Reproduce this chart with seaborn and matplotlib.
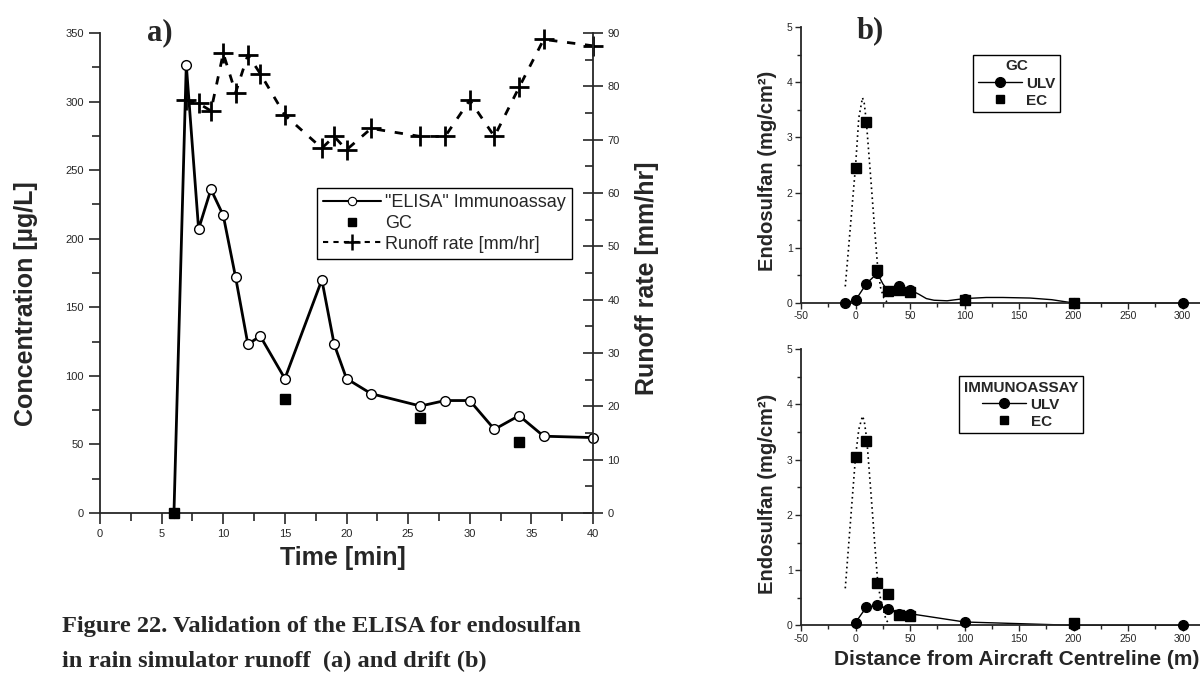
import numpy as np
import pandas as pd
import matplotlib
matplotlib.use("Agg")
import matplotlib.pyplot as plt
from matplotlib.lines import Line2D
from matplotlib.ticker import MultipleLocator
import seaborn as sns

# ---------------- Panel a data ----------------
time_elisa = [6, 7, 8, 9, 10, 11, 12, 13, 15, 18, 19, 20, 22, 26, 28, 30, 32, 34, 36, 40]
conc_elisa = [0, 327, 207, 236, 217, 172, 123, 129, 98, 170, 123, 98, 87, 78, 82, 82, 61, 71, 56, 55]
time_gc = [6, 15, 26, 34]
conc_gc = [0, 83, 69, 52]
time_runoff = [7, 8, 9, 10, 11, 12, 13, 15, 18, 19, 20, 22, 26, 28, 30, 32, 34, 36, 40]
runoff_rate = [77.4, 76.8, 75.4, 86.2, 78.8, 85.9, 82.4, 74.6, 68.4, 70.6, 68.1, 72.1,
               70.6, 70.6, 77.4, 70.6, 79.8, 88.8, 87.6]

# ---------------- Panel b data (GC, top) ----------------
ulv_gc_x = [-10, 0, 10, 20, 30, 40, 50, 100, 200, 300]
ulv_gc_y = [0.0, 0.05, 0.35, 0.54, 0.21, 0.31, 0.24, 0.08, 0.0, 0.0]
ulv_gc_curve_x = [-10, 0, 10, 20, 25, 30, 35, 40, 45, 50, 58, 65, 72, 84, 92, 100,
                  120, 135, 160, 180, 190, 200, 250, 300]
ulv_gc_curve_y = [0.0, 0.05, 0.35, 0.54, 0.35, 0.21, 0.27, 0.31, 0.28, 0.24, 0.16, 0.08,
                  0.05, 0.04, 0.06, 0.08, 0.10, 0.10, 0.09, 0.06, 0.03, 0.0, 0.0, 0.0]
ec_gc_x = [0, 10, 20, 30, 40, 50, 100, 200]
ec_gc_y = [2.45, 3.27, 0.59, 0.22, 0.23, 0.20, 0.05, 0.0]
ec_gc_fit_x = [-9.4, -6, -3, 0, 3, 6.4, 8, 10, 13, 16, 18, 20.5, 23, 26, 28.8]
ec_gc_fit_y = [0.30, 1.08, 1.78, 2.47, 3.35, 3.72, 3.62, 3.27, 2.51, 1.74, 1.23, 0.60, 0.28, 0.09, 0.02]

# ---------------- Panel b data (Immunoassay, bottom) ----------------
ulv_ia_x = [0, 10, 20, 30, 40, 50, 100, 200, 300]
ulv_ia_y = [0.05, 0.33, 0.36, 0.30, 0.20, 0.21, 0.06, 0.0, 0.0]
ec_ia_x = [0, 10, 20, 30, 40, 50, 200]
ec_ia_y = [3.05, 3.34, 0.76, 0.57, 0.18, 0.17, 0.05]
ec_ia_fit_x = [-9.4, -6, -3, 0, 3, 6.4, 8, 10.4, 13, 16, 18, 20.5, 23, 26, 28, 31]
ec_ia_fit_y = [0.67, 1.53, 2.29, 3.05, 3.55, 3.79, 3.70, 3.36, 2.69, 1.92, 1.38, 0.76, 0.48, 0.24, 0.10, 0.02]

# ---------------- Text ----------------
caption_1 = "Figure 22. Validation of the ELISA for endosulfan"
caption_2 = "in rain simulator runoff  (a) and drift (b)"

sns.set_style("ticks")
plt.rcParams["font.family"] = ["Liberation Sans", "DejaVu Sans"]
plt.rcParams["axes.linewidth"] = 1.3
plt.rcParams["axes.unicode_minus"] = False

W, H = 1200, 680
fig = plt.figure(figsize=(12, 6.8), dpi=100)

# ======================= Panel a =======================
axa = fig.add_axes([100 / W, 1 - 513 / H, 493 / W, 480 / H])
sns.lineplot(x=time_elisa, y=conc_elisa, ax=axa, color="black", lw=2.0, marker="o",
             ms=7, mfc="white", mec="black", mew=1.0, clip_on=False, zorder=3)
axa.plot(time_gc, conc_gc, ls="none", marker="s", ms=6.5, color="black", clip_on=False, zorder=4)
axa.set_xlim(0, 40)
axa.set_ylim(0, 350)
axa.xaxis.set_major_locator(MultipleLocator(5))
axa.xaxis.set_minor_locator(MultipleLocator(2.5))
axa.yaxis.set_major_locator(MultipleLocator(50))
axa.yaxis.set_minor_locator(MultipleLocator(25))
axa.tick_params(which="major", direction="out", length=8, width=1.2, labelsize=8)
axa.tick_params(which="minor", direction="out", length=6, width=1.2)
axa.spines["top"].set_visible(False)
axa.spines["right"].set_visible(False)
axa.set_xlabel("Time [min]", fontsize=18, fontweight="bold")
axa.set_ylabel("Concentration [µg/L]", fontsize=18, fontweight="bold")
axa.xaxis.set_label_coords(0.493, -0.068)
axa.yaxis.set_label_coords(-0.125, 0.436)

ax2 = axa.twinx()
sns.lineplot(x=time_runoff, y=runoff_rate, ax=ax2, color="black", lw=2.0,
             ls=(0, (3, 3.5)), marker="+", ms=14, mew=2.0, mec="black", mfc="black",
             clip_on=False)
ax2.set_ylim(0, 90)
ax2.yaxis.set_major_locator(MultipleLocator(10))
ax2.yaxis.set_minor_locator(MultipleLocator(5))
ax2.tick_params(which="major", direction="inout", length=14, width=1.2, labelsize=8)
ax2.tick_params(which="minor", direction="in", length=6, width=1.2)
for s in ["top", "left", "bottom"]:
    ax2.spines[s].set_visible(False)
ax2.set_ylabel("Runoff rate [mm/hr]", fontsize=18, fontweight="bold")
ax2.yaxis.set_label_coords(1.085, 0.489)

handles_a = [
    Line2D([], [], color="black", lw=1.5, marker="o", ms=6, mfc="white", mec="black", mew=0.8),
    Line2D([], [], ls="none", marker="s", ms=6, color="black"),
    Line2D([], [], color="black", lw=1.5, ls=(0, (2.5, 2.5)), marker="+", ms=12, mew=1.8),
]
leg = ax2.legend(handles_a, ['"ELISA" Immunoassay', "GC", "Runoff rate [mm/hr]"],
                 loc="upper left", bbox_to_anchor=(0.44, 0.677), borderaxespad=0,
                 fontsize=13, handlelength=3.2, handletextpad=0.2, labelspacing=0.2,
                 borderpad=0.35, fancybox=False, framealpha=1, edgecolor="black")
leg.get_frame().set_linewidth(1.0)

fig.text(147 / W, 1 - 40 / H, "a)", family=["Liberation Serif"], fontweight="bold",
         fontsize=22, va="baseline")
fig.text(62 / W, 1 - 632 / H, caption_1, family=["Liberation Serif"], fontweight="bold",
         fontsize=17.6, va="baseline")
fig.text(62 / W, 1 - 667 / H, caption_2, family=["Liberation Serif"], fontweight="bold",
         fontsize=17.6, va="baseline")

# ======================= Panel b =======================
def style_b(ax):
    ax.set_xlim(-50, 316)
    ax.set_ylim(0, 5)
    ax.xaxis.set_major_locator(MultipleLocator(50))
    ax.xaxis.set_minor_locator(MultipleLocator(25))
    ax.yaxis.set_major_locator(MultipleLocator(1))
    ax.yaxis.set_minor_locator(MultipleLocator(0.5))
    ax.tick_params(which="major", direction="out", length=4, width=1.0, labelsize=7.5, pad=2)
    ax.tick_params(which="minor", direction="out", length=3, width=1.0)
    ax.spines["top"].set_visible(False)
    ax.spines["right"].set_visible(False)
    ax.set_ylabel("Endosulfan (mg/cm²)", fontsize=14.5, fontweight="bold")


def legend_b(ax, title, x0, y0):
    hs = [Line2D([], [], color="black", lw=1.0, marker="o", ms=7),
          Line2D([], [], ls="none", marker="s", ms=5.5, color="black")]
    lg = ax.legend(hs, ["ULV", "EC"], title=title, loc="upper left",
                   bbox_to_anchor=(x0, y0), borderaxespad=0,
                   prop={"weight": "bold", "size": 11},
                   title_fontproperties={"weight": "bold", "size": 11},
                   handlelength=2.9, handletextpad=0.3, labelspacing=0.2,
                   borderpad=0.3, fancybox=False, framealpha=1, edgecolor="black")
    lg.get_frame().set_linewidth(1.0)
    return lg


axt = fig.add_axes([801 / W, 1 - 303 / H, 399 / W, 276 / H])
sns.lineplot(x=ec_gc_fit_x, y=ec_gc_fit_y, ax=axt, color="black", lw=1.2, ls=(0, (1, 2)))
sns.lineplot(x=ulv_gc_curve_x, y=ulv_gc_curve_y, ax=axt, color="black", lw=1.0, clip_on=False)
axt.plot(ec_gc_x, ec_gc_y, ls="none", marker="s", ms=6.5, color="black", clip_on=False, zorder=4)
axt.plot(ulv_gc_x, ulv_gc_y, ls="none", marker="o", ms=7, color="black", clip_on=False, zorder=5)
style_b(axt)
axt.yaxis.set_label_coords(-0.06, 0.48)
axt.set_xlabel("")
legend_b(axt, "GC", 0.431, 0.899)
fig.text(857 / W, 1 - 38 / H, "b)", family=["Liberation Serif"], fontweight="bold",
         fontsize=22, va="baseline")

axbm = fig.add_axes([801 / W, 1 - 625.3 / H, 399 / W, 276 / H])
sns.lineplot(x=ec_ia_fit_x, y=ec_ia_fit_y, ax=axbm, color="black", lw=1.2, ls=(0, (1, 2)))
sns.lineplot(x=ulv_ia_x, y=ulv_ia_y, ax=axbm, color="black", lw=1.0, clip_on=False)
axbm.plot(ec_ia_x, ec_ia_y, ls="none", marker="s", ms=6.5, color="black", clip_on=False, zorder=4)
axbm.plot(ulv_ia_x, ulv_ia_y, ls="none", marker="o", ms=7, color="black", clip_on=False, zorder=5)
style_b(axbm)
axbm.yaxis.set_label_coords(-0.06, 0.476)
axbm.set_xlabel("Distance from Aircraft Centreline (m)", fontsize=15, fontweight="bold")
axbm.xaxis.set_label_coords(0.541, -0.09)
legend_b(axbm, "IMMUNOASSAY", 0.396, 0.903)

fig.savefig("out.png", dpi=100)
